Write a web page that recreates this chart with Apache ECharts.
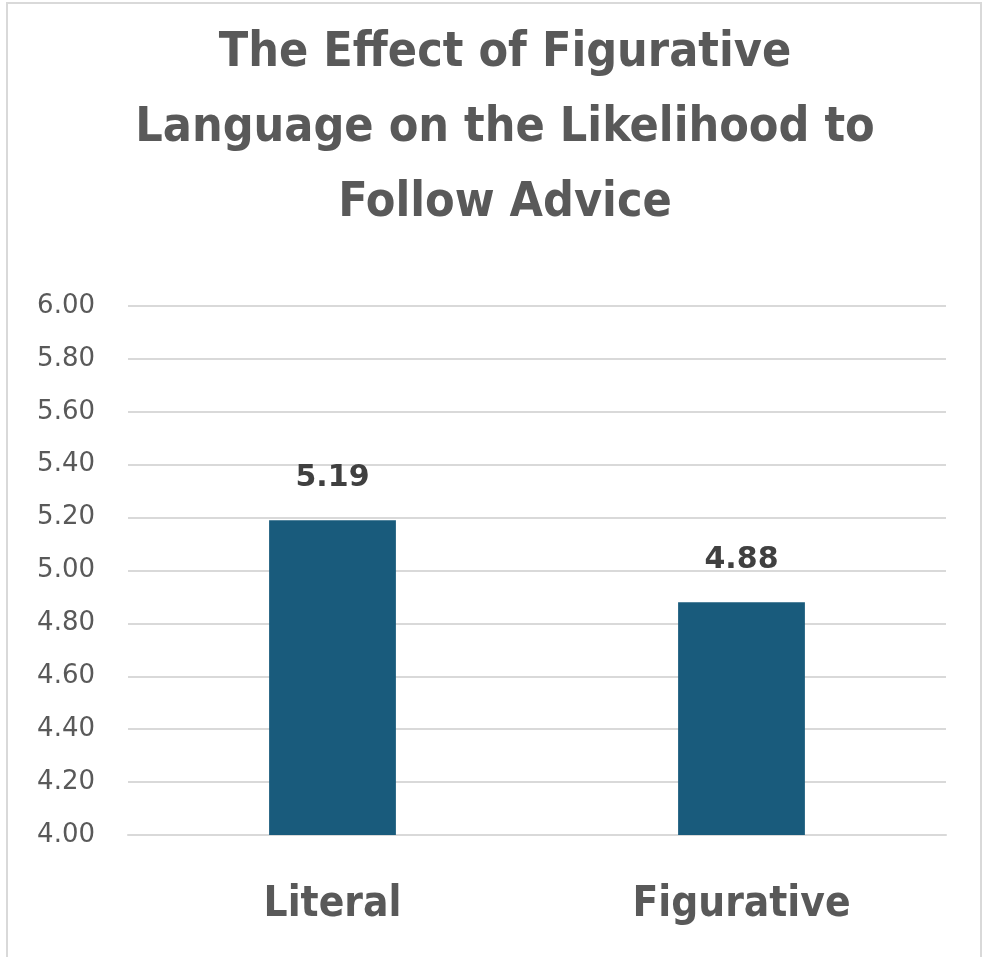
<!DOCTYPE html>
<html>
<head>
<meta charset="utf-8">
<script src="https://cdn.jsdelivr.net/npm/echarts@6/dist/echarts.min.js"></script>
<style>
html,body{margin:0;padding:0;background:#fff;}
#wrap{position:absolute;left:0;top:0;width:982px;height:957px;}
#frame{position:absolute;left:6px;top:2px;width:976px;height:970px;border:2px solid #d9d9d9;box-sizing:border-box;}
#main{position:absolute;left:0;top:0;width:982px;height:957px;}
</style>
</head>
<body>
<div id="wrap"><div id="frame"></div><div id="main"></div></div>
<script>
const categories = ["Literal", "Figurative"];
const values = [5.19, 4.88];
const yTicks = [4.00, 4.20, 4.40, 4.60, 4.80, 5.00, 5.20, 5.40, 5.60, 5.80, 6.00];
const titleText = "The Effect of Figurative\nLanguage on the Likelihood to\nFollow Advice";

const chart = echarts.init(document.getElementById('main'), null, {renderer: 'canvas'});
chart.setOption({
  backgroundColor: 'transparent',
  animation: false,
  graphic: [{
    type: 'text',
    x: 505,
    y: 16,
    style: {
      text: titleText,
      textAlign: 'center',
      textVerticalAlign: 'top',
      fontFamily: '"Liberation Sans Narrow", "DejaVu Sans Condensed", sans-serif',
      fontWeight: 'bold',
      fontSize: 48,
      lineHeight: 75,
      fill: '#595959'
    }
  }],
  grid: {left: 128, right: 36, top: 306, bottom: 122, containLabel: false},
  xAxis: {
    type: 'category',
    data: categories,
    axisTick: {show: false},
    axisLine: {show: true, lineStyle: {color: '#d9d9d9', width: 2}},
    axisLabel: {
      margin: 49,
      fontFamily: '"Liberation Sans Narrow", "DejaVu Sans Condensed", sans-serif',
      fontWeight: 'bold',
      fontSize: 42,
      color: '#595959'
    }
  },
  yAxis: {
    type: 'value',
    min: yTicks[0],
    max: yTicks[yTicks.length - 1],
    interval: 0.2,
    axisLine: {show: false},
    axisTick: {show: false},
    splitLine: {lineStyle: {color: '#d9d9d9', width: 2}},
    axisLabel: {
      margin: 33,
      fontFamily: '"DejaVu Sans", sans-serif',
      fontSize: 26,
      color: '#595959',
      formatter: v => v.toFixed(2)
    }
  },
  series: [{
    type: 'bar',
    data: values,
    barWidth: '31%',
    itemStyle: {color: '#195b7c'},
    label: {
      show: true,
      position: 'top',
      distance: 27,
      fontFamily: '"DejaVu Sans", sans-serif',
      fontWeight: 'bold',
      fontSize: 30,
      color: '#404040',
      formatter: p => p.value.toFixed(2)
    }
  }]
});
</script>
</body>
</html>
